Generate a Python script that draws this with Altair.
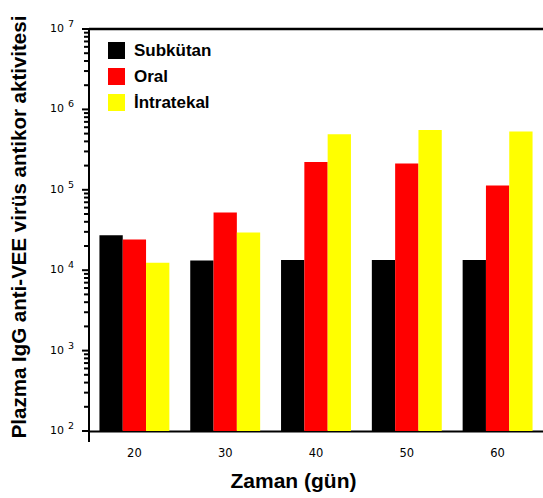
import altair as alt
import pandas as pd

days = ["20", "30", "40", "50", "60"]
series = ["Subkütan", "Oral", "İntratekal"]
subkutan = [27200, 13200, 13400, 13400, 13400]
oral = [24100, 52300, 221000, 213000, 113000]
intratekal = [12400, 29400, 491000, 555000, 530000]
colors = ["#000000", "#ff0000", "#ffff00"]
decades = [1e2, 1e3, 1e4, 1e5, 1e6, 1e7]
exponents = ["2", "3", "4", "5", "6", "7"]
minor_mult = [2, 3, 4, 5, 6, 7, 8, 9]
y_title = "Plazma IgG anti-VEE virüs antikor aktivitesi"
x_title = "Zaman (gün)"

rows = []
for name, vals in zip(series, [subkutan, oral, intratekal]):
    for d, v in zip(days, vals):
        rows.append({"gun": d, "grup": name, "deger": v, "taban": 100})
df = pd.DataFrame(rows)

minor_vals = [m * d for d in decades[:-1] for m in minor_mult]
df_minor = pd.DataFrame({"v": minor_vals})
df_dec = pd.DataFrame({"v": decades, "e": exponents, "b": ["10"] * len(decades)})
df_one = pd.DataFrame({"t": [y_title]})

W, H = 454, 402
FONT = "Liberation Sans"

yscale = alt.Scale(type="log", domain=[1e2, 1e7], nice=False)

bars = alt.Chart(df).mark_bar(strokeWidth=0).encode(
    x=alt.X(
        "gun:N",
        sort=days,
        scale=alt.Scale(paddingInner=0.23, paddingOuter=0.115),
        axis=alt.Axis(
            title=x_title,
            labelAngle=0,
            tickSize=0,
            domainWidth=2,
            domainColor="#000000",
            labelFont="DejaVu Sans",
            labelFontSize=11.5,
            labelColor="#000000",
            labelPadding=16,
            titleFont=FONT,
            titleFontSize=21,
            titleFontWeight="bold",
            titleColor="#000000",
            titleX=204,
            titleY=50,
            titleBaseline="middle",
            titleAlign="center",
        ),
    ),
    xOffset=alt.XOffset("grup:N", sort=series),
    y=alt.Y("deger:Q", scale=yscale, axis=None),
    y2="taban:Q",
    color=alt.Color(
        "grup:N",
        sort=series,
        scale=alt.Scale(domain=series, range=colors),
        legend=alt.Legend(
            title=None,
            orient="none",
            legendX=19,
            legendY=13,
            symbolType="square",
            symbolSize=289,
            symbolStrokeWidth=0,
            symbolOpacity=1,
            labelFont=FONT,
            labelFontSize=17,
            labelFontWeight="bold",
            labelColor="#000000",
            labelOffset=9,
            rowPadding=8,
        ),
    ),
)

minor = alt.Chart(df_minor).mark_rule(color="#000000", strokeWidth=2, opacity=1).encode(
    y=alt.Y("v:Q", scale=yscale, axis=None),
    x=alt.value(-5),
    x2=alt.value(0),
)

major = alt.Chart(df_dec).mark_rule(color="#000000", strokeWidth=2, opacity=1).encode(
    y=alt.Y("v:Q", scale=yscale, axis=None),
    x=alt.value(-7),
    x2=alt.value(0),
)

base_text = alt.Chart(df_dec).mark_text(
    font="DejaVu Sans", fontSize=11, color="#000000", align="right", baseline="middle"
).encode(
    y=alt.Y("v:Q", scale=yscale, axis=None),
    x=alt.value(-25),
    text="b:N",
)

exp_text = alt.Chart(df_dec).mark_text(
    font="DejaVu Sans", fontSize=9.5, color="#000000", align="left", baseline="middle", dy=-5
).encode(
    y=alt.Y("v:Q", scale=yscale, axis=None),
    x=alt.value(-21),
    text="e:N",
)

y_title_mark = alt.Chart(df_one).mark_text(
    font=FONT, fontSize=20.5, fontWeight="bold", color="#000000",
    angle=270, align="center", baseline="middle",
).encode(
    x=alt.value(-69),
    y=alt.value(H / 2 - 3),
    text="t:N",
)

y_domain = alt.Chart(df_one).mark_rule(color="#000000", strokeWidth=2).encode(
    x=alt.value(0), y=alt.value(0), y2=alt.value(H + 11)
)

top_border = alt.Chart(df_one).mark_rule(color="#000000", strokeWidth=2.5).encode(
    x=alt.value(0), x2=alt.value(W + 2), y=alt.value(0)
)

chart = alt.layer(
    bars, base_text, exp_text, y_title_mark, y_domain, top_border, minor, major
).properties(
    width=W,
    height=H,
    autosize=alt.AutoSizeParams(type="none"),
    padding={"left": 89, "top": 29, "right": 0, "bottom": 67},
).configure_view(stroke=None).configure(background="#ffffff")

chart.save("out.html", embed_options={"renderer": "svg", "actions": False})
